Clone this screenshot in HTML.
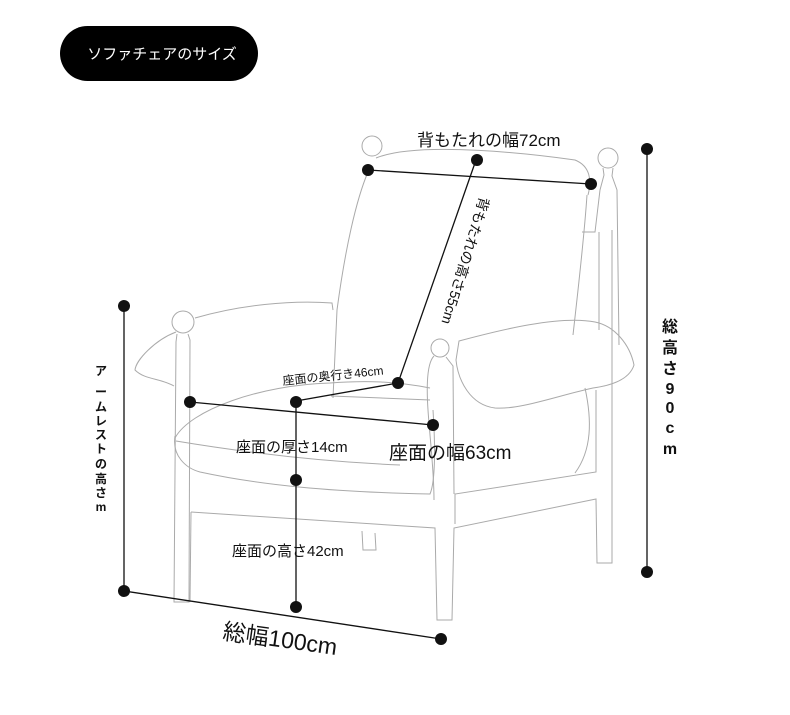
<!DOCTYPE html>
<html><head><meta charset="utf-8"><style>
html,body{margin:0;padding:0;background:#fff;}
svg{display:block;}
text{font-family:"Liberation Sans","Noto Sans CJK JP",sans-serif;fill:#111;}
</style></head><body>
<svg width="790" height="715" viewBox="0 0 790 715" xmlns="http://www.w3.org/2000/svg">
<rect x="60" y="26" width="198" height="55" rx="27.5" fill="#000"/>
<text x="162" y="59" text-anchor="middle" font-size="15" style="fill:#fff">ソファチェアのサイズ</text>

<g fill="none" stroke="#aaa" stroke-width="1">
<circle cx="372" cy="146" r="10"/>
<path d="M376 158 C420 140 540 155 575 160 C590 166 592 180 588 195"/>
<path d="M368 172 C356 200 345 250 337 310 L333 398"/>
<path d="M587 195 C584 240 578 290 573 335"/>
<circle cx="608" cy="158" r="10"/>
<path d="M603 168 L604 175 L600 190 L595 232 L582 232"/>
<path d="M613 168 L612 176 L617 190 L619 345"/>
<path d="M599 232 L599 330"/>
<circle cx="183" cy="322" r="11"/>
<path d="M195 318 C240 305 290 300 332 303 L333 310"/>
<path d="M176 332 C155 340 136 360 135 370 C145 380 160 378 174 386"/>
<path d="M177 334 L176 342 L174 602 L189 602 L190 340 L188 334"/>
<path d="M175 438 C190 410 260 385 330 383 C370 380 400 382 430 388"/>
<path d="M175 436 C172 455 185 468 200 472 C260 485 330 492 430 494 C436 480 435 440 433 410"/>
<path d="M176 441 C260 455 330 462 400 465"/>
<path d="M331 396 L430 400"/>
<path d="M191 512 L435 528 L437 620 L452 620 L454 528 L596 499 L597 563 L612 563 L612 230"/>
<path d="M191 512 L190 602"/>
<path d="M455 524 L455 494 L596 472 L596 390"/>
<path d="M362 531 L363 550 L376 550 L375 533"/>
<circle cx="440" cy="348" r="9"/>
<path d="M434 356 C428 362 426 380 428 410 C430 440 434 470 434 500"/>
<path d="M446 357 L453 366 L454 494"/>
<path d="M459 341 C500 330 560 315 595 322 C615 326 630 345 634 365 C630 378 615 385 593 388 C560 395 520 410 495 408 C470 405 458 380 456 360 Z"/>
<path d="M585 388 C592 420 592 450 575 473"/>
</g>

<g stroke="#111" stroke-width="1.3" fill="none">
<line x1="368" y1="170" x2="591" y2="184"/>
<line x1="476" y1="160" x2="398" y2="383"/>
<line x1="296" y1="401" x2="398" y2="383"/>
<line x1="190" y1="402" x2="433" y2="425"/>
<line x1="296" y1="401" x2="296" y2="607"/>
<line x1="124" y1="306" x2="124" y2="591"/>
<line x1="124" y1="591" x2="441" y2="639"/>
<line x1="647" y1="149" x2="647" y2="572"/>
</g>
<g fill="#111">
<circle cx="368" cy="170" r="6"/><circle cx="591" cy="184" r="6"/>
<circle cx="477" cy="160" r="6"/><circle cx="398" cy="383" r="6"/>
<circle cx="296" cy="402" r="6"/><circle cx="190" cy="402" r="6"/>
<circle cx="433" cy="425" r="6"/><circle cx="296" cy="480" r="6"/>
<circle cx="296" cy="607" r="6"/><circle cx="124" cy="306" r="6"/>
<circle cx="124" cy="591" r="6"/><circle cx="441" cy="639" r="6"/>
<circle cx="647" cy="149" r="6"/><circle cx="647" cy="572" r="6"/>
</g>

<text x="417" y="146" font-size="17">背もたれの幅72cm</text>
<text transform="translate(480,196) rotate(107)" font-size="14">背もたれの高さ55cm</text>
<text transform="translate(283,385) rotate(-6)" font-size="12">座面の奥行き46cm</text>
<text x="389" y="459" font-size="19">座面の幅63cm</text>
<text x="236" y="452" font-size="15">座面の厚さ14cm</text>
<text x="232" y="556" font-size="15">座面の高さ42cm</text>
<text transform="translate(222,639) rotate(8)" font-size="23">総幅100cm</text>
<g font-size="16" font-weight="bold" text-anchor="middle">
<text x="670" y="332">総</text><text x="670" y="353">高</text><text x="670" y="374">さ</text>
<text x="670" y="394">9</text><text x="670" y="413">0</text><text x="670" y="433">c</text><text x="670" y="454">m</text>
</g>
<g font-size="12" font-weight="bold" text-anchor="middle">
<text x="101" y="375">ア</text><text x="101" y="396">ー</text><text x="101" y="411">ム</text>
<text x="101" y="425">レ</text><text x="101" y="439">ス</text><text x="101" y="453">ト</text>
<text x="101" y="468">の</text><text x="101" y="483">高</text><text x="101" y="497">さ</text><text x="101" y="511">m</text>
</g>
</svg>
</body></html>
